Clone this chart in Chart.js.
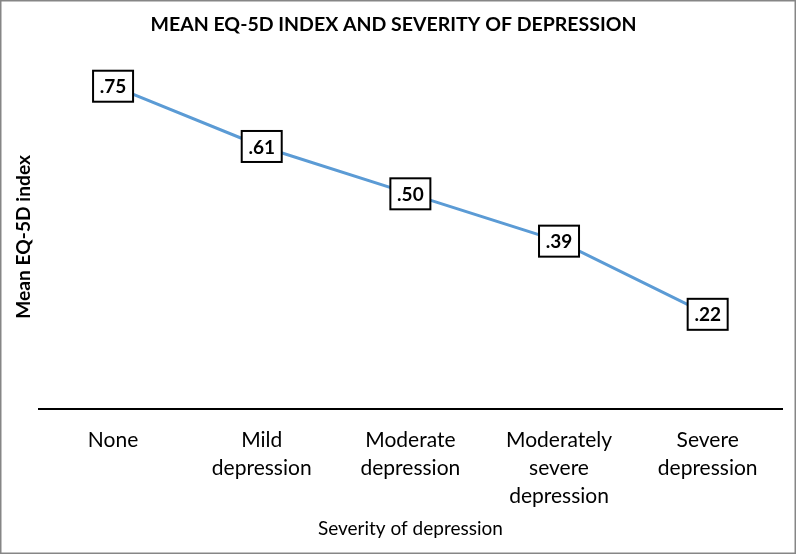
<!DOCTYPE html>
<html>
<head>
<meta charset="utf-8">
<script src="https://cdn.jsdelivr.net/npm/chart.js@4/dist/chart.umd.min.js"></script>
<style>
  html, body { margin: 0; padding: 0; background: #fff; }
  #wrap { width: 796px; height: 554px; position: relative; }
</style>
</head>
<body>
<div id="wrap"><canvas id="c" width="796" height="554"></canvas></div>
<script>
const categories = [
  ['None'],
  ['Mild', 'depression'],
  ['Moderate', 'depression'],
  ['Moderately', 'severe', 'depression'],
  ['Severe', 'depression']
];
const meanIndex = [0.75, 0.61, 0.50, 0.39, 0.22];
const valueLabels = ['.75', '.61', '.50', '.39', '.22'];
const yMin = 0;
const yMax = 0.8;

const FONT = 'Lato, "Open Sans", sans-serif';

const frame = {
  id: 'frame',
  beforeDraw(chart) {
    const ctx = chart.ctx;
    ctx.save();
    ctx.fillStyle = '#ffffff';
    ctx.fillRect(0, 0, chart.width, chart.height);
    ctx.restore();
  },
  afterDraw(chart) {
    const ctx = chart.ctx;
    ctx.save();
    ctx.strokeStyle = '#868686';
    ctx.lineWidth = 1.5;
    ctx.strokeRect(0.75, 0.75, chart.width - 1.5, chart.height - 1.5);
    ctx.restore();
  }
};

const boxLabels = {
  id: 'boxLabels',
  afterDatasetsDraw(chart) {
    const ctx = chart.ctx;
    const meta = chart.getDatasetMeta(0);
    ctx.save();
    meta.data.forEach((pt, i) => {
      const w = 40, h = 31;
      const x = pt.x - w / 2, y = pt.y - h / 2;
      ctx.fillStyle = '#ffffff';
      ctx.fillRect(x, y, w, h);
      ctx.strokeStyle = '#000000';
      ctx.lineWidth = 2;
      ctx.strokeRect(x, y, w, h);
      ctx.fillStyle = '#000000';
      ctx.font = 'bold 19px ' + FONT;
      ctx.textAlign = 'center';
      ctx.textBaseline = 'middle';
      ctx.fillText(valueLabels[i], pt.x, pt.y + 1);
    });
    ctx.restore();
  }
};

new Chart(document.getElementById('c'), {
  type: 'line',
  data: {
    labels: categories,
    datasets: [{
      data: meanIndex,
      borderColor: '#5B9BD5',
      borderWidth: 3,
      pointRadius: 0,
      tension: 0,
      fill: false
    }]
  },
  options: {
    responsive: false,
    animation: false,
    devicePixelRatio: 1,
    layout: { padding: { left: 5, right: 14, top: 0, bottom: 14 } },
    plugins: {
      legend: { display: false },
      tooltip: { enabled: false },
      title: {
        display: true,
        text: 'MEAN EQ-5D INDEX AND SEVERITY OF DEPRESSION',
        color: '#000000',
        font: { family: FONT, size: 19.5, weight: 'bold' },
        padding: { top: 13.3, bottom: 28 }
      }
    },
    scales: {
      x: {
        offset: true,
        grid: { display: false, drawTicks: false },
        border: { display: true, color: '#000000', width: 2 },
        ticks: {
          color: '#000000',
          font: { family: FONT, size: 21, lineHeight: 1.333 },
          padding: 17,
          maxRotation: 0,
          autoSkip: false
        },
        title: {
          display: true,
          text: 'Severity of depression',
          color: '#000000',
          font: { family: FONT, size: 19 },
          padding: { top: 0, bottom: 0 }
        },
        afterFit(scale) { scale.height = 131; }
      },
      y: {
        min: yMin,
        max: yMax,
        grid: { display: false, drawTicks: false },
        border: { display: false },
        ticks: { display: false },
        title: {
          display: true,
          text: 'Mean EQ-5D index',
          color: '#000000',
          font: { family: FONT, size: 19.2, weight: 'bold' },
          padding: { top: 7.5, bottom: 3.2 }
        }
      }
    }
  },
  plugins: [frame, boxLabels]
});
</script>
</body>
</html>
